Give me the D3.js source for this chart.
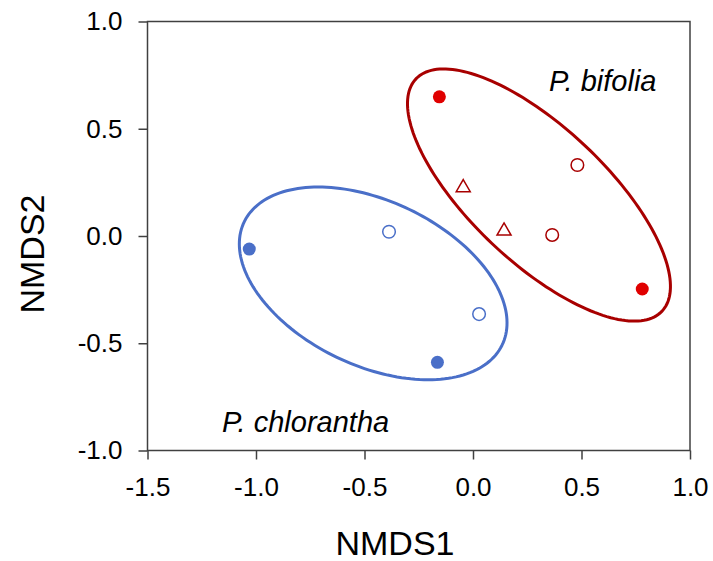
<!DOCTYPE html>
<meta charset="utf-8">
<style>
 body { margin: 0; background: #fff; }
 svg { font-family: "Liberation Sans", Arial, sans-serif; }
 .frame { fill: none; stroke: #404040; stroke-width: 1.5; }
 .axis path, .axis line { stroke: #404040; stroke-width: 1.5; }
 .axis text { fill: #000; }
 .title { font-size: 34px; fill: #000; }
 .group-label { font-size: 29px; font-style: italic; fill: #000; }
</style>
<svg width="713" height="561"></svg>
<script src="https://cdn.jsdelivr.net/npm/d3@7"></script>
<script>

 // points
 var bifoliaFilledX = [-0.155, 0.780]
 var bifoliaFilledY = [0.649, -0.247]
 var bifoliaOpenX = [0.481, 0.365]
 var bifoliaOpenY = [0.331, 0.005]
 var bifoliaTriX = [-0.045, 0.143]
 var bifoliaTriY = [0.230, 0.028]

 var chlorFilledX = [-1.031, -0.164]
 var chlorFilledY = [-0.061, -0.589]
 var chlorOpenX = [-0.387, 0.028]
 var chlorOpenY = [0.020, -0.364]

 // ellipses: centre x, centre y, semi axes, angle (deg, data space)
 var ellipseNames = ['bifolia', 'chlorantha']
 var ellipseCx = [0.304, -0.460]
 var ellipseCy = [0.191, -0.221]
 var ellipseRx = [0.784, 0.660]
 var ellipseRy = [0.313, 0.383]
 var ellipseAngle = [-43.8, -25.9]

 var xTicks = [-1.5, -1.0, -0.5, 0.0, 0.5, 1.0]
 var yTicks = [-1.0, -0.5, 0.0, 0.5, 1.0]

 var red = '#e00000', darkRed = '#a80000', blue = '#4a6fc8'

 var svg = d3.select('svg')
 var plotLeft = 147.5, plotRight = 690, plotTop = 21.5, plotBottom = 450.5

 var x = d3.scaleLinear().domain([-1.5, 1.0]).range([plotLeft, plotRight])
 var y = d3.scaleLinear().domain([-1.0, 1.0]).range([plotBottom, plotTop])

 svg.append('rect')
    .attr('class', 'frame')
    .attr('x', plotLeft).attr('y', plotTop)
    .attr('width', plotRight - plotLeft).attr('height', plotBottom - plotTop)

 var fmt = d => d3.format('.1f')(d).replace('−', '-')

 var xAxis = svg.append('g')
    .attr('class', 'axis')
    .attr('transform', `translate(0,${plotBottom})`)
    .call(d3.axisBottom(x).tickValues(xTicks).tickSize(9).tickPadding(18).tickFormat(fmt))
 xAxis.attr('font-size', 26).attr('font-family', null)
 xAxis.select('.domain').remove()

 var yAxis = svg.append('g')
    .attr('class', 'axis')
    .attr('transform', `translate(${plotLeft},0)`)
    .call(d3.axisLeft(y).tickValues(yTicks).tickSize(9).tickPadding(16).tickFormat(fmt))
 yAxis.attr('font-size', 26).attr('font-family', null)
 yAxis.select('.domain').remove()

 svg.append('text')
    .attr('class', 'title')
    .attr('x', 395).attr('y', 555)
    .attr('text-anchor', 'middle')
    .text('NMDS1')

 svg.append('text')
    .attr('class', 'title')
    .attr('transform', 'translate(44,254) rotate(-90)')
    .attr('text-anchor', 'middle')
    .text('NMDS2')

 // ellipses
 var line = d3.line().x(d => x(d[0])).y(d => y(d[1])).curve(d3.curveLinearClosed)
 ellipseNames.forEach(function (name, i) {
   var a = ellipseAngle[i] * Math.PI / 180
   var pts = d3.range(0, 360, 2).map(function (t) {
     var r = t * Math.PI / 180
     var ex = ellipseRx[i] * Math.cos(r), ey = ellipseRy[i] * Math.sin(r)
     return [ellipseCx[i] + ex * Math.cos(a) - ey * Math.sin(a),
             ellipseCy[i] + ex * Math.sin(a) + ey * Math.cos(a)]
   })
   svg.append('path')
      .attr('d', line(pts))
      .attr('fill', 'none')
      .attr('stroke', name == 'bifolia' ? darkRed : blue)
      .attr('stroke-width', 3)
 })

 function circles(xs, ys, fill, stroke) {
   svg.append('g').selectAll('circle')
      .data(xs.map((v, i) => [v, ys[i]]))
      .join('circle')
      .attr('cx', d => x(d[0]))
      .attr('cy', d => y(d[1]))
      .attr('r', fill == 'none' ? 6.3 : 6.5)
      .attr('fill', fill)
      .attr('stroke', stroke)
      .attr('stroke-width', fill == 'none' ? 1.5 : 0)
 }

 circles(bifoliaFilledX, bifoliaFilledY, red, 'none')
 circles(bifoliaOpenX, bifoliaOpenY, 'none', darkRed)
 circles(chlorFilledX, chlorFilledY, blue, 'none')
 circles(chlorOpenX, chlorOpenY, 'none', blue)

 var tri = d3.symbol().type(d3.symbolTriangle).size(85)
 svg.append('g').selectAll('path')
    .data(bifoliaTriX.map((v, i) => [v, bifoliaTriY[i]]))
    .join('path')
    .attr('d', tri)
    .attr('transform', d => `translate(${x(d[0])},${y(d[1]) + 1})`)
    .attr('fill', 'none')
    .attr('stroke', darkRed)
    .attr('stroke-width', 1.5)

 svg.append('text')
    .attr('class', 'group-label')
    .attr('x', 549).attr('y', 91)
    .text('P. bifolia')

 svg.append('text')
    .attr('class', 'group-label')
    .attr('x', 222).attr('y', 432)
    .text('P. chlorantha')

</script>
